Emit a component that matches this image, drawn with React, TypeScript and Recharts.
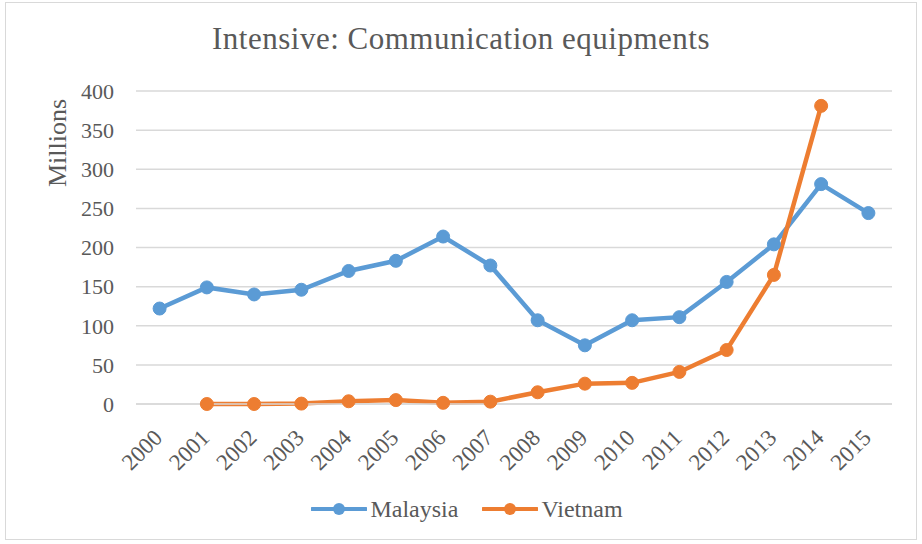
import { LineChart, Line, XAxis, YAxis, CartesianGrid, Legend } from "recharts";

const YEARS = [
  "2000", "2001", "2002", "2003", "2004", "2005", "2006", "2007",
  "2008", "2009", "2010", "2011", "2012", "2013", "2014", "2015",
];

const MALAYSIA = [122, 149, 140, 146, 170, 183, 214, 177, 107, 75, 107, 111, 156, 204, 281, 244];

const VIETNAM = [null, 0, 0, 0.5, 3.5, 5, 1.5, 3, 15, 26, 27, 41, 69, 165, 381, null];

const Y_TICKS = [0, 50, 100, 150, 200, 250, 300, 350, 400];

const BLUE = "#5B9BD5";
const ORANGE = "#ED7D31";
const TEXT = "#595959";
const GRID = "#d9d9d9";
const FONT = '"Liberation Serif", "Times New Roman", serif';

const SERIES = [
  { key: "Malaysia", color: BLUE },
  { key: "Vietnam", color: ORANGE },
];

const data = YEARS.map((year, i) => ({
  year,
  Malaysia: MALAYSIA[i],
  Vietnam: VIETNAM[i],
}));

// Excel-style slanted year labels, baseline end sits just under the category
function YearTick({ x, y, payload }: any) {
  return (
    <g transform={`translate(${x + 4},${y + 27})`}>
      <text
        transform="rotate(-45)"
        textAnchor="end"
        fontSize={23}
        fill={TEXT}
        fontFamily={FONT}
      >
        {payload.value}
      </text>
    </g>
  );
}

function LegendBox() {
  return (
    <div
      style={{
        height: 30,
        paddingLeft: 42,
        display: "flex",
        justifyContent: "center",
        alignItems: "center",
        gap: 24,
        fontFamily: FONT,
        fontSize: 24,
        color: TEXT,
      }}
    >
      {SERIES.map((s) => (
        <div key={s.key} style={{ display: "flex", alignItems: "center", gap: 3 }}>
          <svg width={56} height={16}>
            <line x1={1} y1={8} x2={55} y2={8} stroke={s.color} strokeWidth={4} strokeLinecap="round" />
            <circle cx={28} cy={8} r={6} fill={s.color} />
          </svg>
          <span>{s.key}</span>
        </div>
      ))}
    </div>
  );
}

export default function App() {
  return (
    <div
      style={{
        position: "absolute",
        left: 0,
        top: 0,
        width: 922,
        height: 544,
        background: "#fff",
        fontFamily: FONT,
      }}
    >
      <div
        style={{
          position: "absolute",
          left: 5,
          top: 2,
          width: 910,
          height: 536,
          border: `1px solid ${GRID}`,
        }}
      />
      <div
        style={{
          position: "absolute",
          left: 0,
          top: 21,
          width: 922,
          textAlign: "center",
          fontSize: 31,
          letterSpacing: 0.5,
          color: TEXT,
        }}
      >
        Intensive: Communication equipments
      </div>
      <LineChart
        width={922}
        height={544}
        data={data}
        margin={{ top: 91, right: 30, left: 0, bottom: 20 }}
        style={{ position: "absolute", left: 0, top: 0 }}
      >
        <CartesianGrid vertical={false} stroke={GRID} strokeWidth={1.5} />
        <XAxis
          dataKey="year"
          interval={0}
          height={90}
          padding={{ left: 23.6, right: 23.6 }}
          tick={<YearTick />}
          tickLine={false}
          axisLine={{ stroke: GRID, strokeWidth: 1.5 }}
        />
        <YAxis
          width={136}
          domain={[0, 400]}
          ticks={Y_TICKS}
          axisLine={false}
          tickLine={false}
          tickMargin={16}
          tick={{ fontSize: 22, fill: TEXT, fontFamily: FONT }}
          label={({ viewBox }: any) => (
            <text
              x={viewBox.x + 66}
              y={viewBox.y + 52}
              transform={`rotate(-90, ${viewBox.x + 66}, ${viewBox.y + 52})`}
              textAnchor="middle"
              fontSize={26}
              fill={TEXT}
              fontFamily={FONT}
            >
              Millions
            </text>
          )}
        />
        <Legend verticalAlign="bottom" height={30} content={<LegendBox />} />
        {SERIES.map((s) => (
          <Line
            key={s.key}
            type="linear"
            dataKey={s.key}
            stroke={s.color}
            strokeWidth={4.5}
            dot={{ r: 6.5, fill: s.color, stroke: s.color, strokeWidth: 1 }}
            activeDot={false}
            isAnimationActive={false}
          />
        ))}
      </LineChart>
    </div>
  );
}
